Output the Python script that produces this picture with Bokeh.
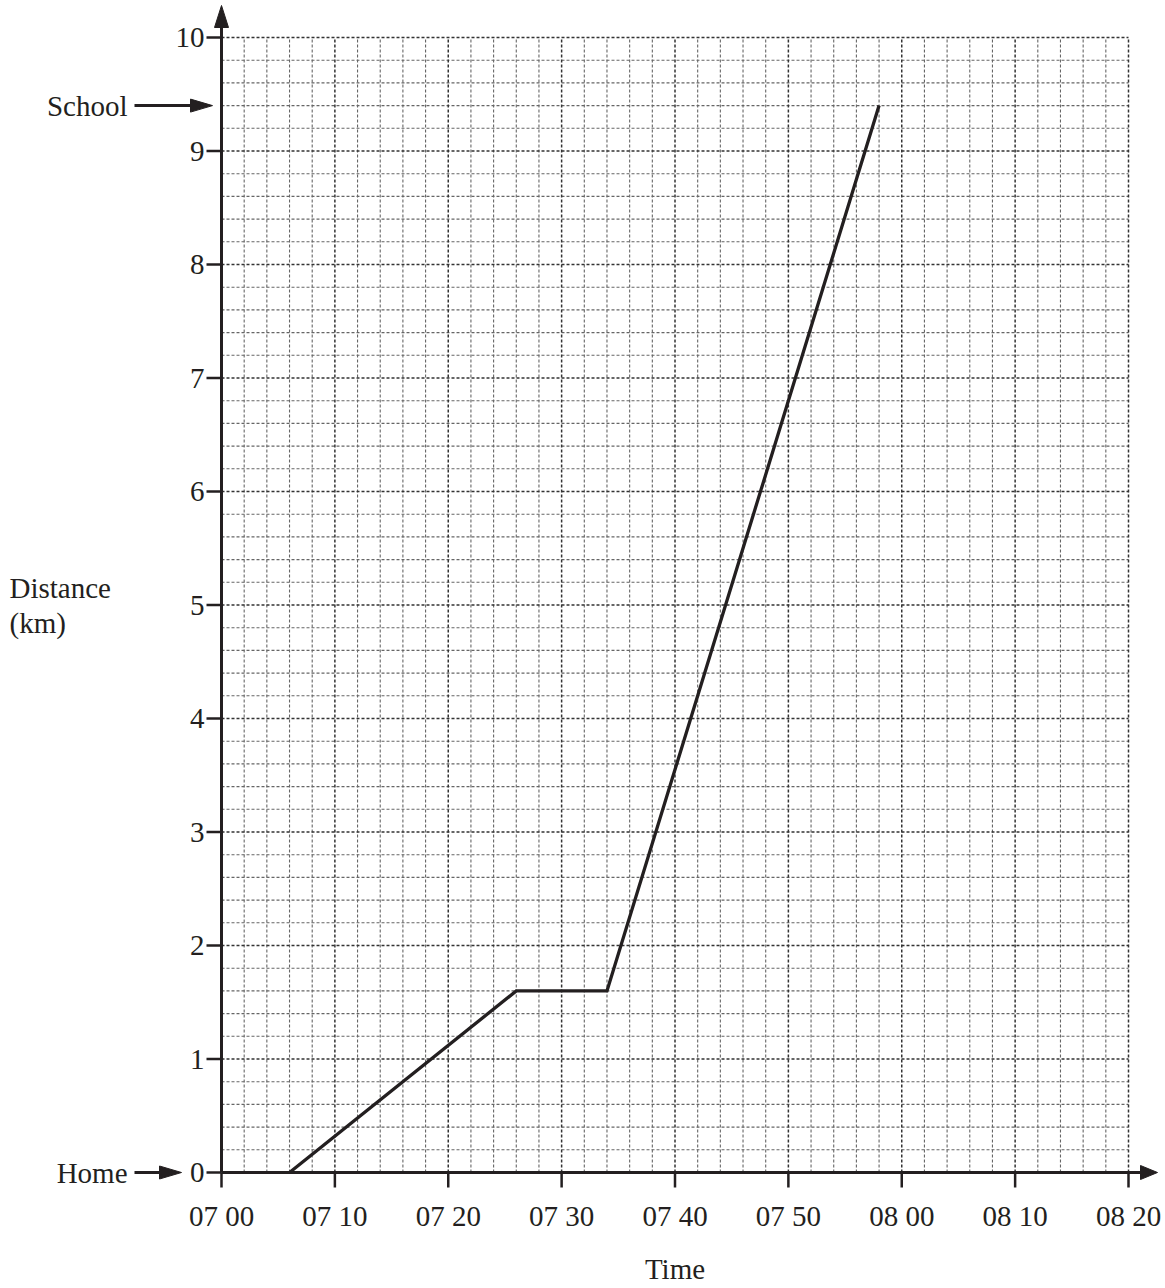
from bokeh.plotting import figure
from bokeh.models import Range1d
from bokeh.core.properties import value
from bokeh.embed import file_html
from bokeh.resources import INLINE

# ---- data -------------------------------------------------------------
times_min = [6, 26, 34, 58]          # minutes after 07 00
distance_km = [0, 1.6, 1.6, 9.4]

x_ticks = [0, 10, 20, 30, 40, 50, 60, 70, 80]
x_tick_labels = ["07 00", "07 10", "07 20", "07 30", "07 40",
                 "07 50", "08 00", "08 10", "08 20"]
y_ticks = [0, 1, 2, 3, 4, 5, 6, 7, 8, 9, 10]
y_tick_labels = ["0", "1", "2", "3", "4", "5", "6", "7", "8", "9", "10"]

landmark_names = ["Home", "School"]
landmark_dist = [0, 9.4]

x_minor_step = 2      # minutes per small square
y_minor_step = 0.2    # km per small square

# ---- layout helpers (page pixels -> data) ------------------------------
PX_X0, PX_Y0 = 221.0, 1172.0
SX, SY = 11.3375, 113.5
def dx(px):
    return (px - PX_X0) / SX
def dy(py):
    return (PX_Y0 - py) / SY
def wx(px):
    return px / SX
def wy(py):
    return py / SY

INK = "#231f20"
FONT = "Liberation Serif"
FS = "29px"

W, H = 1162, 1285
p = figure(width=W, height=H,
           x_range=Range1d(dx(0), dx(W)), y_range=Range1d(dy(H), dy(0)),
           output_backend="svg", toolbar_location=None,
           min_border=0, min_border_left=0, min_border_right=0,
           min_border_top=0, min_border_bottom=0)
p.axis.visible = False
p.grid.visible = False
p.outline_line_color = None
p.background_fill_color = "white"
p.border_fill_color = "white"

# ---- grid ---------------------------------------------------------------
x_max, y_max = x_ticks[-1], y_ticks[-1]
nx = int(round(x_max / x_minor_step))
ny = int(round(y_max / y_minor_step))
x_minor = [i * x_minor_step for i in range(nx + 1)]
y_minor = [round(j * y_minor_step, 6) for j in range(ny + 1)]
x_min_only = [v for v in x_minor if v not in x_ticks]
y_min_only = [v for v in y_minor if abs(v - round(v)) > 1e-6]
x_major_grid = [v for v in x_ticks if v != 0]
y_major_grid = [v for v in y_ticks if v != 0]

p.segment(x0=x_min_only, y0=[0] * len(x_min_only), x1=x_min_only, y1=[y_max] * len(x_min_only),
          line_color="#666666", line_width=1.1, line_dash="3 2")
p.segment(x0=[0] * len(y_min_only), y0=y_min_only, x1=[x_max] * len(y_min_only), y1=y_min_only,
          line_color="#666666", line_width=1.1, line_dash="3 2")
p.segment(x0=x_major_grid, y0=[0] * len(x_major_grid), x1=x_major_grid, y1=[y_max] * len(x_major_grid),
          line_color="#333333", line_width=1.5, line_dash="3 2")
p.segment(x0=[0] * len(y_major_grid), y0=y_major_grid, x1=[x_max] * len(y_major_grid), y1=y_major_grid,
          line_color="#333333", line_width=1.5, line_dash="3 2")

# ---- journey line -------------------------------------------------------
p.line(times_min, distance_km, line_color=INK, line_width=3.3, line_join="miter")

# ---- axes (lines, ticks, arrow heads) ----------------------------------
y_head_tip, y_head_len, x_head_tip, x_head_len = dy(5), wy(22), dx(1157), wx(17)
half_w_x, half_w_y = wx(7), wy(7)
p.segment(x0=[0], y0=[0], x1=[0], y1=[y_head_tip - y_head_len], line_color=INK, line_width=3)
p.segment(x0=[0], y0=[0], x1=[x_head_tip - x_head_len], y1=[0], line_color=INK, line_width=3)
p.patch([0, -half_w_x, half_w_x], [y_head_tip, y_head_tip - y_head_len, y_head_tip - y_head_len],
        fill_color=INK, line_color=INK, line_width=1)
p.patch([x_head_tip, x_head_tip - x_head_len, x_head_tip - x_head_len], [0, half_w_y, -half_w_y],
        fill_color=INK, line_color=INK, line_width=1)

tick_len_x, tick_len_y = wx(15), wy(15)
p.segment(x0=[-tick_len_x] * len(y_ticks), y0=y_ticks, x1=[0] * len(y_ticks), y1=y_ticks,
          line_color=INK, line_width=2.5)
p.segment(x0=x_ticks, y0=[0] * len(x_ticks), x1=x_ticks, y1=[-tick_len_y] * len(x_ticks),
          line_color=INK, line_width=2.5)

# tick labels
p.text(x=[dx(204)] * len(y_ticks), y=y_ticks, text=y_tick_labels,
       text_font=value(FONT), text_font_size=value(FS), text_color=INK,
       text_align="right", text_baseline="middle")
p.text(x=x_ticks, y=[dy(1215)] * len(x_ticks), text=x_tick_labels,
       text_font=value(FONT), text_font_size=value(FS), text_color=INK,
       text_align="center", text_baseline="middle")

# ---- landmark labels & arrows ------------------------------------------
tip_px = {"Home": 181, "School": 212}
for name, d in zip(landmark_names, landmark_dist):
    tip = dx(tip_px[name])
    head_len = wx(22)
    p.text(x=[dx(127)], y=[d], text=[name],
           text_font=value(FONT), text_font_size=value(FS), text_color=INK,
           text_align="right", text_baseline="middle")
    p.segment(x0=[dx(134)], y0=[d], x1=[tip - head_len], y1=[d], line_color=INK, line_width=3)
    p.patch([tip, tip - head_len, tip - head_len], [d, d + wy(6.5), d - wy(6.5)],
            fill_color=INK, line_color=INK, line_width=1)

# ---- axis titles ----------------------------------------------------------
p.text(x=[dx(9), dx(9)], y=[dy(587), dy(622)], text=["Distance", "(km)"],
       text_font=value(FONT), text_font_size=value(FS), text_color=INK,
       text_align="left", text_baseline="middle")
p.text(x=[40], y=[dy(1268)], text=["Time"],
       text_font=value(FONT), text_font_size=value(FS), text_color=INK,
       text_align="center", text_baseline="middle")

open("out.html", "w").write(file_html(p, INLINE))
